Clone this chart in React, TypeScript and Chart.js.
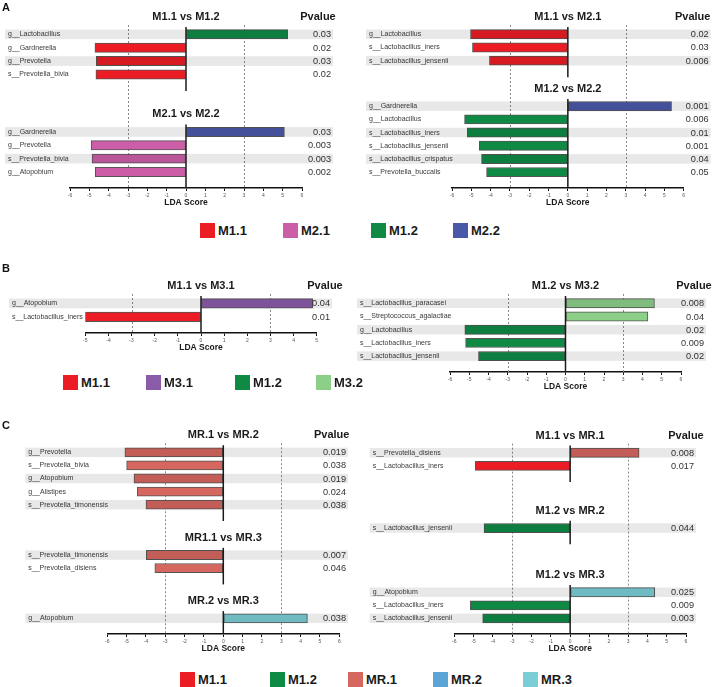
import React, { useEffect, useRef } from "react";
import { Chart, registerables } from "chart.js";

Chart.register(...registerables);

const FONT = '"Liberation Sans", Arial, Helvetica, sans-serif';

const classColors: Record<string, string> = {
  "M1.1": "#ec1c24",
  "M1.2": "#0e8a45",
  "M2.1": "#cc5ea8",
  "M2.2": "#4a58a8",
  "M3.1": "#8a5ba8",
  "M3.2": "#8ccf89",
  "MR.1": "#d6675f",
  "MR.2": "#5aa5d6",
  "MR.3": "#7bcdd6",
};

// ---------- Panel A (left column)
const a1Title = "M1.1 vs M1.2";
const a1Taxa = ["g__Lactobacillus", "g__Gardnerella", "g__Prevotella", "s__Prevotella_bivia"];
const a1Lda = [5.26, -4.71, -4.64, -4.66];
const a1P = ["0.03", "0.02", "0.03", "0.02"];
const a1Class = ["M1.2", "M1.1", "M1.1", "M1.1"];

const a2Title = "M2.1 vs M2.2";
const a2Taxa = ["g__Gardnerella", "g__Prevotella", "s__Prevotella_bivia", "g__Atopobium"];
const a2Lda = [5.09, -4.91, -4.86, -4.69];
const a2P = ["0.03", "0.003", "0.003", "0.002"];
const a2Class = ["M2.2", "M2.1", "M2.1", "M2.1"];

// ---------- Panel A (right column)
const a3Title = "M1.1 vs M2.1";
const a3Taxa = ["g__Lactobacillus", "s__Lactobacillus_iners", "s__Lactobacillus_jensenii"];
const a3Lda = [-5.04, -4.94, -4.06];
const a3P = ["0.02", "0.03", "0.006"];
const a3Class = ["M1.1", "M1.1", "M1.1"];

const a4Title = "M1.2 vs M2.2";
const a4Taxa = [
  "g__Gardnerella",
  "g__Lactobacillus",
  "s__Lactobacillus_iners",
  "s__Lactobacillus_jensenii",
  "s__Lactobacillus_crispatus",
  "s__Prevotella_buccalis",
];
const a4Lda = [5.37, -5.35, -5.21, -4.59, -4.47, -4.21];
const a4P = ["0.001", "0.006", "0.01", "0.001", "0.04", "0.05"];
const a4Class = ["M2.2", "M1.2", "M1.2", "M1.2", "M1.2", "M1.2"];

// ---------- Panel B
const b1Title = "M1.1 vs M3.1";
const b1Taxa = ["g__Atopobium", "s__Lactobacillus_iners"];
const b1Lda = [4.83, -5.0];
const b1P = ["0.04", "0.01"];
const b1Class = ["M3.1", "M1.1"];

const b2Title = "M1.2 vs M3.2";
const b2Taxa = [
  "s__Lactobacillus_paracasei",
  "s__Streptococcus_agalactiae",
  "g__Lactobacillus",
  "s__Lactobacillus_iners",
  "s__Lactobacillus_jensenii",
];
const b2Lda = [4.62, 4.28, -5.23, -5.19, -4.52];
const b2P = ["0.008", "0.04", "0.02", "0.009", "0.02"];
const b2Class = ["M3.2", "M3.2", "M1.2", "M1.2", "M1.2"];

// ---------- Panel C (left column)
const c1Title = "MR.1 vs MR.2";
const c1Taxa = [
  "g__Prevotella",
  "s__Prevotella_bivia",
  "g__Atopobium",
  "g__Alistipes",
  "s__Prevotella_timonensis",
];
const c1Lda = [-5.09, -5.0, -4.62, -4.45, -4.0];
const c1P = ["0.019", "0.038", "0.019", "0.024", "0.038"];
const c1Class = ["MR.1", "MR.1", "MR.1", "MR.1", "MR.1"];

const c2Title = "MR1.1 vs MR.3";
const c2Taxa = ["s__Prevotella_timonensis", "s__Prevotella_disiens"];
const c2Lda = [-3.98, -3.54];
const c2P = ["0.007", "0.046"];
const c2Class = ["MR.1", "MR.1"];

const c3Title = "MR.2 vs MR.3";
const c3Taxa = ["g__Atopobium"];
const c3Lda = [4.35];
const c3P = ["0.038"];
const c3Class = ["MR.3"];

// ---------- Panel C (right column)
const c4Title = "M1.1 vs MR.1";
const c4Taxa = ["s__Prevotella_disiens", "s__Lactobacillus_iners"];
const c4Lda = [3.57, -4.91];
const c4P = ["0.008", "0.017"];
const c4Class = ["MR.1", "M1.1"];

const c5Title = "M1.2 vs MR.2";
const c5Taxa = ["s__Lactobacillus_jensenii"];
const c5Lda = [-4.46];
const c5P = ["0.044"];
const c5Class = ["M1.2"];

const c6Title = "M1.2 vs MR.3";
const c6Taxa = ["g__Atopobium", "s__Lactobacillus_iners", "s__Lactobacillus_jensenii"];
const c6Lda = [4.38, -5.17, -4.53];
const c6P = ["0.025", "0.009", "0.003"];
const c6Class = ["MR.3", "M1.2", "M1.2"];

// ---------- Legends
const legendA = ["M1.1", "M2.1", "M1.2", "M2.2"];
const legendB = ["M1.1", "M3.1", "M1.2", "M3.2"];
const legendC = ["M1.1", "M1.2", "MR.1", "MR.2", "MR.3"];

type Group = { title: string; taxa: string[]; lda: number[]; p: string[]; cls: string[] };
type Geo = {
  left: number;
  top: number;
  width: number;
  labelX: number;
  chartLeft: number;
  chartRight: number;
  pRight: number;
  chartTop: number;
  axisY: number;
  pHeaderX: number;
  xMin: number;
  xMax: number;
  gaps: number[];
};

const AXIS_H = 20;
const Y_TOP = -0.7;
const Y_BOTTOM_EXTRA = 1.2;

const g = (title: string, taxa: string[], lda: number[], p: string[], cls: string[]): Group => ({
  title,
  taxa,
  lda,
  p,
  cls,
});

const columns: { groups: Group[]; geo: Geo }[] = [
  {
    groups: [g(a1Title, a1Taxa, a1Lda, a1P, a1Class), g(a2Title, a2Taxa, a2Lda, a2P, a2Class)],
    geo: { left: 0, top: 0, width: 350, labelX: 8, chartLeft: 70, chartRight: 302, pRight: 331, chartTop: 25, axisY: 187.5, pHeaderX: 318, xMin: -6, xMax: 6, gaps: [4.31] },
  },
  {
    groups: [g(a3Title, a3Taxa, a3Lda, a3P, a3Class), g(a4Title, a4Taxa, a4Lda, a4P, a4Class)],
    geo: { left: 356, top: 0, width: 357, labelX: 369, chartLeft: 452, chartRight: 683.7, pRight: 708.7, chartTop: 25, axisY: 188.3, pHeaderX: 692.7, xMin: -6, xMax: 6, gaps: [3.45] },
  },
  {
    groups: [g(b1Title, b1Taxa, b1Lda, b1P, b1Class)],
    geo: { left: 0, top: 272, width: 350, labelX: 12, chartLeft: 85.3, chartRight: 316.7, pRight: 330, chartTop: 294, axisY: 333.3, pHeaderX: 325, xMin: -5, xMax: 5, gaps: [] },
  },
  {
    groups: [g(b2Title, b2Taxa, b2Lda, b2P, b2Class)],
    geo: { left: 356, top: 272, width: 357, labelX: 360, chartLeft: 450, chartRight: 681, pRight: 704, chartTop: 294, axisY: 371.7, pHeaderX: 694, xMin: -6, xMax: 6, gaps: [] },
  },
  {
    groups: [
      g(c1Title, c1Taxa, c1Lda, c1P, c1Class),
      g(c2Title, c2Taxa, c2Lda, c2P, c2Class),
      g(c3Title, c3Taxa, c3Lda, c3P, c3Class),
    ],
    geo: { left: 0, top: 424, width: 356, labelX: 28.3, chartLeft: 107.3, chartRight: 339.3, pRight: 346, chartTop: 443.2, axisY: 634.3, pHeaderX: 331.7, xMin: -6, xMax: 6, gaps: [3.85, 3.84] },
  },
  {
    groups: [
      g(c4Title, c4Taxa, c4Lda, c4P, c4Class),
      g(c5Title, c5Taxa, c5Lda, c5P, c5Class),
      g(c6Title, c6Taxa, c6Lda, c6P, c6Class),
    ],
    geo: { left: 356, top: 424, width: 357, labelX: 372.7, chartLeft: 454.3, chartRight: 686, pRight: 694, chartTop: 443.6, axisY: 634.3, pHeaderX: 686, xMin: -6, xMax: 6, gaps: [4.77, 4.92] },
  },
];

type Row = { pos: number; label: string; p: string; value: number; color: string; stripe: boolean; group: number };

function LdaColumn({ groups, geo }: { groups: Group[]; geo: Geo }) {
  const ref = useRef<HTMLCanvasElement>(null);
  const height = Math.round(geo.axisY + AXIS_H - geo.top);

  useEffect(() => {
    const rows: Row[] = [];
    const groupSpans: { first: number; last: number; title: string }[] = [];
    groups.forEach((grp, gi) => {
      const start = gi === 0 ? 0 : rows[rows.length - 1].pos + geo.gaps[gi - 1];
      grp.taxa.forEach((t, i) => {
        rows.push({
          pos: start + i,
          label: t,
          p: grp.p[i],
          value: grp.lda[i],
          color: classColors[grp.cls[i]],
          stripe: i % 2 === 0,
          group: gi,
        });
      });
      groupSpans.push({ first: start, last: start + grp.taxa.length - 1, title: grp.title });
    });
    const yMin = Y_TOP;
    const yMax = rows[rows.length - 1].pos + Y_BOTTOM_EXTRA;
    const L = geo.left;
    const T = geo.top;
    const pitch = (geo.axisY - geo.chartTop) / (yMax - yMin);

    const decor = {
      id: "ldaDecor",
      beforeDatasetsDraw(chart: any) {
        const { ctx, chartArea, scales } = chart;
        const xs = scales.x;
        ctx.save();
        ctx.strokeStyle = "#8a8a8a";
        ctx.lineWidth = 1;
        ctx.setLineDash([2, 2]);
        for (const v of [-3, 3]) {
          const px = Math.round(xs.getPixelForValue(v)) + 0.5;
          ctx.beginPath();
          ctx.moveTo(px, chartArea.top);
          ctx.lineTo(px, chartArea.bottom);
          ctx.stroke();
        }
        ctx.restore();
      },
      afterDatasetsDraw(chart: any) {
        const { ctx, chartArea, scales } = chart;
        const ys = scales.y;
        const xs = scales.x;
        const sh = pitch * 0.72;
        const x0 = geo.labelX - 3 - L;
        const x1 = geo.pRight + 2 - L;
        // row labels and p-values, positioned on the y scale
        ctx.save();
        ctx.textBaseline = "middle";
        rows.forEach((r) => {
          const py = ys.getPixelForValue(r.pos);
          ctx.fillStyle = "#3a3a3a";
          ctx.font = `7px ${FONT}`;
          ctx.textAlign = "left";
          ctx.fillText(r.label, geo.labelX - L, py);
          ctx.fillStyle = "#333";
          ctx.font = `9.2px ${FONT}`;
          ctx.textAlign = "right";
          ctx.fillText(r.p, geo.pRight - L, py + 0.5);
        });
        ctx.restore();
        // alternating row shading (multiplied over bars)
        ctx.save();
        ctx.globalCompositeOperation = "multiply";
        ctx.fillStyle = "#e8e8e8";
        rows.forEach((r) => {
          if (r.stripe) ctx.fillRect(x0, ys.getPixelForValue(r.pos) - sh / 2, x1 - x0, sh);
        });
        ctx.restore();
        // zero lines per group
        const zx = xs.getPixelForValue(0);
        ctx.save();
        ctx.strokeStyle = "#1a1a1a";
        ctx.lineWidth = 1.5;
        groupSpans.forEach((sp, i) => {
          const top = ys.getPixelForValue(sp.first - 0.55);
          const bottom = i === groupSpans.length - 1 ? chartArea.bottom : ys.getPixelForValue(sp.last + 1.25);
          ctx.beginPath();
          ctx.moveTo(zx, top);
          ctx.lineTo(zx, bottom);
          ctx.stroke();
        });
        ctx.restore();
      },
      afterDraw(chart: any) {
        const { ctx, scales } = chart;
        const ys = scales.y;
        const xs = scales.x;
        const zx = xs.getPixelForValue(0);
        ctx.save();
        ctx.fillStyle = "#1a1a1a";
        ctx.font = `bold 11px ${FONT}`;
        ctx.textAlign = "center";
        ctx.textBaseline = "middle";
        groupSpans.forEach((sp) => {
          ctx.fillText(sp.title, zx, ys.getPixelForValue(sp.first - 1.32));
        });
        ctx.fillText("Pvalue", geo.pHeaderX - L, ys.getPixelForValue(groupSpans[0].first - 1.32));
        ctx.restore();
      },
    };

    const chart = new Chart(ref.current as HTMLCanvasElement, {
      type: "bar",
      data: {
        datasets: [
          {
            data: rows.map((r) => ({ x: r.value, y: r.pos })) as any,
            backgroundColor: rows.map((r) => r.color),
            borderColor: "rgba(55,55,55,0.85)",
            borderWidth: 1,
            borderSkipped: false,
            barThickness: pitch * 0.7,
          } as any,
        ],
      },
      options: {
        animation: false,
        responsive: false,
        maintainAspectRatio: false,
        indexAxis: "y",
        layout: {
          padding: {
            left: geo.chartLeft - L,
            right: L + geo.width - geo.chartRight,
            top: geo.chartTop - T,
            bottom: 0,
          },
        },
        plugins: { legend: { display: false }, tooltip: { enabled: false } },
        scales: {
          x: {
            type: "linear",
            position: "bottom",
            min: geo.xMin,
            max: geo.xMax,
            offset: false,
            ticks: {
              stepSize: 1,
              autoSkip: false,
              maxRotation: 0,
              minRotation: 0,
              padding: 2,
              color: "#555",
              font: { size: 5, family: FONT },
            },
            grid: { drawOnChartArea: false, drawTicks: true, tickLength: 3, tickColor: "#111", tickWidth: 1, offset: false },
            border: { display: true, color: "#111", width: 1.5 },
            title: {
              display: true,
              text: "LDA Score",
              color: "#1a1a1a",
              padding: 0,
              font: { size: 8.5, weight: "bold", family: FONT },
            },
            afterFit: (s: any) => {
              s.height = AXIS_H;
            },
          },
          y: {
            type: "linear",
            display: false,
            reverse: true,
            offset: false,
            min: yMin,
            max: yMax,
            bounds: "data",
            grid: { offset: false },
          },
        } as any,
      },
      plugins: [decor as any],
    });
    return () => chart.destroy();
  }, []);

  return (
    <canvas
      ref={ref}
      width={geo.width}
      height={height}
      style={{ position: "absolute", left: geo.left, top: geo.top, width: geo.width, height }}
    />
  );
}

function Legend({ items, xs, top }: { items: string[]; xs: number[]; top: number }) {
  return (
    <>
      {items.map((it, i) => (
        <div key={it + i} style={{ position: "absolute", left: xs[i], top, height: 15, display: "flex", alignItems: "center" }}>
          <div style={{ width: 14.5, height: 15, background: classColors[it] }} />
          <span style={{ marginLeft: 3.5, font: `bold 13px ${FONT}`, color: "#1a1a1a", lineHeight: "15px" }}>{it}</span>
        </div>
      ))}
    </>
  );
}

const letterStyle = (top: number): React.CSSProperties => ({
  position: "absolute",
  left: 2,
  top,
  font: `bold 11px ${FONT}`,
  color: "#111",
  lineHeight: "12px",
});

export default function App() {
  return (
    <div style={{ position: "absolute", left: 0, top: 0, width: 713, height: 687, overflow: "hidden", background: "#fff" }}>
      {columns.map((c, i) => (
        <LdaColumn key={i} groups={c.groups} geo={c.geo} />
      ))}
      <Legend items={legendA} xs={[200, 283, 371, 453]} top={223} />
      <Legend items={legendB} xs={[63, 146, 235, 316]} top={375} />
      <Legend items={legendC} xs={[180, 270, 348, 433, 523]} top={672} />
      <div style={letterStyle(1)}>A</div>
      <div style={letterStyle(262)}>B</div>
      <div style={letterStyle(419)}>C</div>
    </div>
  );
}
